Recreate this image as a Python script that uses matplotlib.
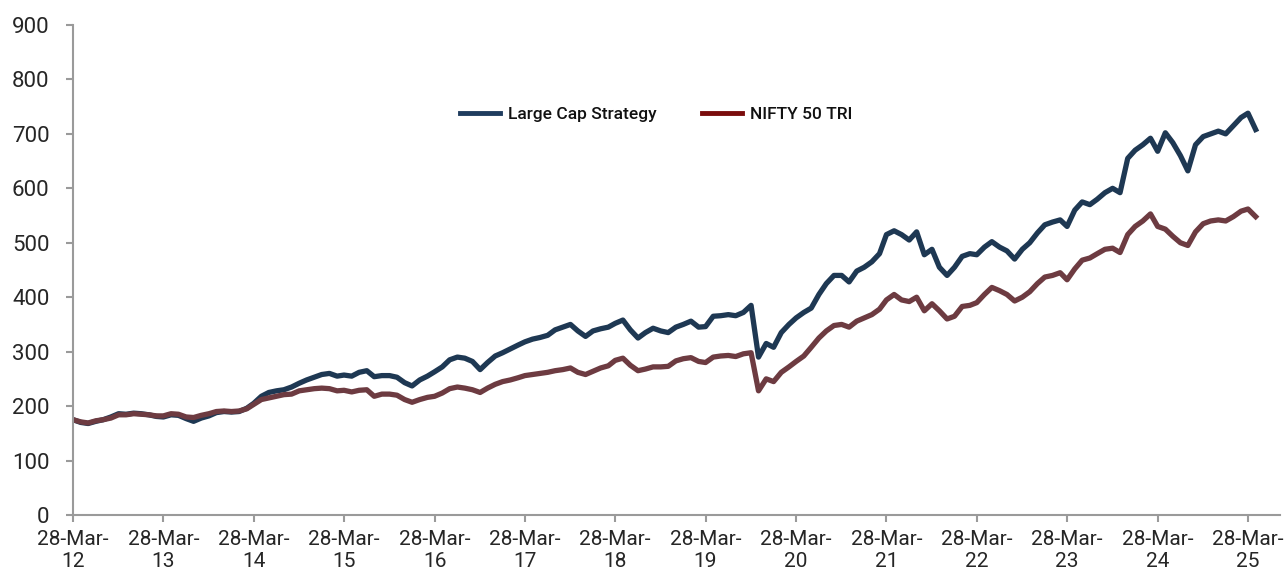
import numpy as np
import pandas as pd
import matplotlib
matplotlib.use("Agg")
from matplotlib import pyplot as plt
from matplotlib.lines import Line2D

plt.rcParams['font.family'] = ['Roboto', 'DejaVu Sans']

# monthly readings, starting 28-Mar-2012
large_cap = [175, 170, 168, 172, 175, 180, 186, 185, 187, 186, 184, 181,
             180, 184, 183, 177, 172, 178, 182, 188, 190, 189, 190, 196,
             205, 218, 225, 228, 230, 235, 242, 248, 253, 258, 260, 255,
             257, 255, 262, 265, 254, 256, 256, 253, 243, 237, 248, 255,
             263, 272, 285, 290, 288, 282, 267, 280, 292, 298, 305, 312,
             318, 323, 326, 330, 340, 345, 350, 338, 328, 338, 342, 345,
             352, 358, 340, 325, 335, 343, 338, 335, 345, 350, 356, 345,
             346, 365, 366, 368, 366, 372, 385, 290, 315, 308, 335, 350,
             362, 372, 380, 405, 425, 440, 440, 428, 448, 455, 465, 480,
             515, 522, 515, 505, 520, 478, 488, 455, 440, 455, 475, 480,
             478, 492, 502, 492, 485, 470, 488, 500, 518, 533, 538, 542,
             530, 560, 575, 570, 580, 592, 600, 592, 655, 670, 680, 692,
             668, 702, 684, 660, 632, 680, 695, 700, 705, 700, 715, 730,
             738, 708]
nifty = [175, 171, 169, 173, 175, 178, 184, 184, 186, 185, 184, 182,
         182, 186, 185, 180, 179, 183, 186, 190, 191, 190, 191, 195,
         203, 212, 215, 218, 221, 222, 228, 230, 232, 233, 232, 228,
         229, 226, 229, 230, 218, 222, 222, 220, 212, 207, 212, 216,
         218, 224, 232, 235, 233, 230, 225, 233, 240, 245, 248, 252,
         256, 258, 260, 262, 265, 267, 270, 262, 258, 264, 270, 274,
         284, 288, 275, 265, 268, 272, 272, 273, 283, 287, 289, 282,
         280, 290, 292, 293, 291, 296, 298, 228, 250, 245, 262, 272,
         282, 292, 308, 325, 338, 348, 350, 345, 356, 362, 368, 378,
         395, 405, 395, 392, 400, 375, 388, 375, 360, 365, 383, 385,
         390, 405, 418, 412, 405, 393, 400, 410, 425, 437, 440, 445,
         432, 452, 468, 472, 480, 488, 490, 482, 515, 530, 540, 553,
         530, 525, 512, 500, 495, 520, 535, 540, 542, 540, 548, 558,
         562, 548]
tick_years = list(range(2012, 2026))

dates = pd.date_range('2012-03-28', periods=len(large_cap), freq=pd.DateOffset(months=1))

navy = '#1e3853'
maroon = '#6d3b41'
grey = '#9a9a9a'

fig = plt.figure(figsize=(12.84, 5.77), dpi=100)
ax = fig.add_axes([0.0569, 0.1075, 0.9401, 0.8492])

ax.plot(dates, large_cap, color=navy, lw=3.8, solid_joinstyle='round')
ax.plot(dates, nifty, color=maroon, lw=3.8, solid_joinstyle='round')

ax.set_ylim(0, 900)
ax.set_yticks(range(0, 901, 100))
ax.set_xlim(pd.Timestamp('2012-03-28'), pd.Timestamp('2025-08-05'))
ticks = [pd.Timestamp(f'{y}-03-28') for y in tick_years]
ax.set_xticks(ticks)
ax.set_xticklabels([f'28-Mar-\n{str(y)[2:]}' for y in tick_years])

for s in ['top', 'right']:
    ax.spines[s].set_visible(False)
for s in ['left', 'bottom']:
    ax.spines[s].set_color(grey)
    ax.spines[s].set_linewidth(1.5)
ax.tick_params(axis='y', colors=grey, labelcolor='#262626', labelsize=16, length=5, width=1.5, pad=12)
ax.tick_params(axis='x', colors=grey, labelcolor='#262626', labelsize=15, length=5, width=1.5, pad=6)

handles = [Line2D([], [], color='#1f3c5e', lw=3.5),
           Line2D([], [], color='#7a0c0c', lw=3.5)]
leg = ax.legend(handles, ['Large Cap Strategy', 'NIFTY 50 TRI'], ncol=2, frameon=False,
                loc='center', bbox_to_anchor=(0.483, 0.818), handlelength=2.3,
                handletextpad=0.45, columnspacing=2.6, prop={'size': 12.5, 'weight': 'medium'})
for t in leg.get_texts():
    t.set_color('#111111')

fig.savefig('out.png', dpi=100)
